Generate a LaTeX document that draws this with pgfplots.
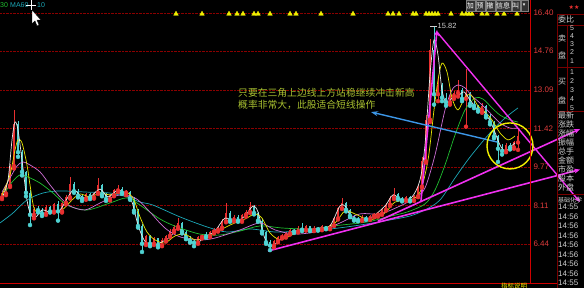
\documentclass[border=0pt]{standalone}
\usepackage{fontspec}
\setmainfont{Liberation Sans}
\newfontfamily\cjk{Noto Sans CJK SC}
\newfontfamily\dejavu{DejaVu Sans}
\usepackage{pgfplots}
\pgfplotsset{compat=1.18}
\usepackage{pgfplotstable}
\usetikzlibrary{arrows.meta}

\definecolor{upred}{HTML}{E83030}
\definecolor{dncyan}{HTML}{4FD2D2}
\definecolor{gridred}{HTML}{8A0000}
\definecolor{framered}{HTML}{D00000}
\definecolor{panelred}{HTML}{7A0000}
\definecolor{ma5}{HTML}{E8E8E8}
\definecolor{ma10}{HTML}{E6E600}
\definecolor{ma20}{HTML}{D070D8}
\definecolor{ma30}{HTML}{20C030}
\definecolor{ma60}{HTML}{1CA8B8}
\definecolor{trend}{HTML}{F030F0}
\definecolor{note}{HTML}{A8C030}
\definecolor{arrowblue}{HTML}{3C96E6}
\definecolor{ticklab}{HTML}{E03C3C}
\definecolor{panelgrey}{HTML}{D0D0D0}
\definecolor{sig}{HTML}{F0F000}

% daily candles: x, body low, body high, low, high
\pgfplotstableread{
x bl bh l h
2 8.45 8.62 8.38 8.70
6 8.62 8.95 8.55 9.05
10 8.95 9.80 8.90 9.90
14 9.80 11.60 9.70 12.22
34 7.70 7.95 7.55 8.05
46 7.75 8.05 7.70 8.12
54 7.85 8.15 7.80 8.20
62 7.85 8.22 7.80 8.30
66 8.22 8.45 8.15 8.55
70 8.45 9.05 8.40 9.33
86 8.40 8.58 8.35 8.62
94 8.45 8.65 8.40 8.70
98 8.65 9.00 8.60 9.29
110 8.38 8.55 8.32 8.60
114 8.55 8.75 8.50 8.80
118 8.75 8.82 8.68 8.99
126 8.66 8.70 8.55 8.78
146 6.45 6.78 6.40 6.85
154 6.45 6.68 6.40 6.75
162 6.40 6.62 6.35 6.70
166 6.62 6.80 6.55 6.85
170 6.80 7.02 6.75 7.10
174 7.02 7.18 6.95 7.25
178 7.18 7.35 7.10 7.56
198 6.50 6.75 6.45 6.80
202 6.75 6.82 6.68 6.88
210 6.78 6.98 6.74 7.02
214 6.98 7.05 6.90 7.12
218 7.05 7.15 6.98 7.20
222 7.15 7.42 7.10 7.50
226 7.42 7.80 7.38 8.21
234 7.48 7.62 7.42 7.70
242 7.46 7.70 7.40 7.75
246 7.70 7.82 7.62 7.90
250 7.82 8.05 7.78 8.25
274 6.38 6.58 6.30 6.62
278 6.58 6.74 6.52 6.80
282 6.74 6.80 6.68 6.86
286 6.80 6.90 6.72 6.95
290 6.90 7.05 6.85 7.12
298 6.98 7.15 6.94 7.20
306 7.06 7.20 7.02 7.25
314 7.05 7.15 7.00 7.20
322 7.08 7.20 7.04 7.25
330 7.12 7.25 7.08 7.30
334 7.25 7.55 7.22 7.62
338 7.55 7.98 7.50 8.05
342 7.98 8.20 7.95 8.43
362 7.48 7.62 7.44 7.68
370 7.52 7.66 7.48 7.70
374 7.66 7.70 7.60 7.76
378 7.70 7.76 7.62 7.82
382 7.76 7.92 7.70 7.98
386 7.92 8.14 7.88 8.20
390 8.14 8.44 8.08 8.50
394 8.44 8.58 8.38 8.86
406 8.34 8.45 8.30 8.50
414 8.33 8.50 8.30 8.55
418 8.50 8.92 8.46 9.00
422 8.92 10.00 8.88 10.20
426 10.00 11.80 9.95 12.00
430 11.80 14.80 11.70 15.30
438 12.90 13.30 12.60 13.60
450 12.55 12.82 12.45 12.90
454 12.82 12.95 12.70 13.05
458 12.95 13.10 12.80 13.50
466 12.70 12.95 11.50 14.00
482 12.22 12.38 12.10 12.50
506 10.45 10.70 10.40 10.78
514 10.60 10.82 10.55 10.88
518 10.82 11.10 10.50 11.45
}\upcandles

\pgfplotstableread{
x bl bh l h
18 10.40 11.60 10.20 11.75
22 9.55 10.40 9.40 10.50
26 8.65 9.55 8.50 9.60
30 7.70 8.65 7.26 8.75
38 7.90 7.95 7.80 8.10
42 7.75 7.90 7.65 8.00
50 7.85 8.05 7.80 8.10
58 7.85 8.15 7.45 8.30
74 8.72 9.05 8.65 9.10
78 8.52 8.72 8.45 8.80
82 8.40 8.52 8.30 8.60
90 8.45 8.58 8.38 8.65
102 8.58 9.00 8.50 9.05
106 8.38 8.58 8.30 8.62
122 8.66 8.82 8.60 8.88
130 8.40 8.70 8.35 8.74
134 7.88 8.40 7.80 8.45
138 7.22 7.88 7.15 7.95
142 6.45 7.22 6.10 7.30
150 6.45 6.78 6.35 6.82
158 6.40 6.68 6.30 6.72
182 6.98 7.35 6.90 7.40
186 6.72 6.98 6.65 7.05
190 6.58 6.72 6.50 6.78
194 6.50 6.58 6.35 6.65
206 6.78 6.82 6.72 6.95
230 7.48 7.80 7.40 7.85
238 7.46 7.62 7.40 7.68
254 7.78 8.05 7.72 8.12
258 7.45 7.78 7.40 7.82
262 6.98 7.45 6.90 7.50
266 6.52 6.98 6.45 7.02
270 6.38 6.52 6.18 6.60
294 6.98 7.05 6.92 7.10
302 7.06 7.15 7.00 7.35
310 7.05 7.20 7.00 7.24
318 7.08 7.15 7.02 7.18
326 7.12 7.20 7.08 7.24
346 7.92 8.20 7.85 8.25
350 7.66 7.92 7.60 7.96
354 7.52 7.66 7.45 7.70
358 7.48 7.52 7.42 7.60
366 7.52 7.62 7.48 7.66
398 8.42 8.58 8.36 8.62
402 8.34 8.42 8.28 8.48
410 8.33 8.45 8.28 8.50
434 12.90 14.80 12.45 15.82
442 12.75 13.30 12.60 13.40
446 12.55 12.75 12.40 12.95
462 12.70 13.10 12.60 13.15
470 12.48 12.95 12.40 13.00
474 12.40 12.48 12.30 12.62
478 12.22 12.40 12.15 12.45
486 11.98 12.38 11.90 12.42
490 11.70 11.98 11.60 12.05
494 11.08 11.70 11.00 11.75
498 10.55 11.08 9.98 11.15
502 10.45 10.55 10.30 10.75
510 10.60 10.70 10.52 10.80
}\downcandles

\begin{document}
\begin{tikzpicture}
\path[use as bounding box] (0,0) rectangle (584pt,288pt);
\clip (0,0) rectangle (584pt,288pt);
\fill[black] (0,0) rectangle (584pt,288pt);

\begin{axis}[
  at={(0pt,0pt)}, anchor=south west,
  scale only axis, width=530pt, height=288pt,
  xmin=0, xmax=530, ymin=4.5466, ymax=16.9603,
  clip=false,
  axis line style={draw=none},
  tick style={draw=none},
  major tick length=0pt,
  xtick=\empty,
  ytick={6.44,8.11,9.77,11.42,13.09,14.76,16.40},
  yticklabels={6.44,8.11,9.77,11.42,13.09,14.76,16.40},
  yticklabel pos=right,
  yticklabel style={anchor=west, text=ticklab, font=\fontsize{8}{9}\selectfont},
  ymajorgrids,
  grid style={gridred, densely dotted, line width=0.5pt},
  candle/.style={only marks, mark=none,
    error bars/.cd, y dir=plus, y explicit, error mark=none},
]
% wicks
\addplot[upred, candle, error bar style={line width=0.6pt, upred}]
  table[x=x, y=l, y error plus expr=\thisrow{h}-\thisrow{l}] {\upcandles};
\addplot[dncyan, candle, error bar style={line width=0.6pt, dncyan}]
  table[x=x, y=l, y error plus expr=\thisrow{h}-\thisrow{l}] {\downcandles};
% bodies
\addplot[upred, candle, error bar style={line width=1.8pt, upred}]
  table[x=x, y=bl, y error plus expr=\thisrow{bh}-\thisrow{bl}] {\upcandles};
\addplot[dncyan, candle, error bar style={line width=1.8pt, dncyan}]
  table[x=x, y=bl, y error plus expr=\thisrow{bh}-\thisrow{bl}] {\downcandles};

% moving averages
\addplot[ma60, line width=0.7pt, smooth] coordinates {
(0,7.35) (13,7.78) (27,8.34) (43,8.64) (60,8.73) (87,8.68) (110,8.64) (127,8.47)
(140,8.25) (153,8.12) (180,7.61) (207,7.18) (227,6.96) (250,7.09) (275,6.96)
(300,7.00) (330,7.09) (360,7.26) (390,7.48) (410,7.65) (425,7.91) (440,8.34)
(455,9.29) (470,10.19) (490,11.23) (505,11.87) (518,12.31)};
\addplot[ma30, line width=0.7pt, smooth] coordinates {
(2,8.47) (12,9.11) (20,9.42) (28,9.33) (40,9.07) (53,8.64) (67,8.12) (87,7.91)
(110,8.21) (127,8.43) (140,8.12) (160,7.52) (177,7.18) (200,6.87) (220,6.83)
(240,7.00) (260,7.22) (283,7.13) (310,7.09) (333,7.22) (367,7.39) (387,7.61)
(407,7.82) (425,8.17) (435,8.77) (445,9.85) (455,11.14) (465,12.22) (475,12.74)
(483,12.69) (492,12.31) (500,12.00) (510,11.79) (518,11.70)};
\addplot[ma20, line width=0.7pt, smooth] coordinates {
(2,8.68) (10,9.29) (17,9.80) (23,9.98) (30,9.85) (40,9.55) (50,8.99) (60,8.47)
(70,8.08) (85,7.91) (100,8.21) (115,8.51) (127,8.56) (138,8.34) (150,7.82)
(165,7.13) (180,6.75) (200,6.62) (215,6.70) (240,7.05) (260,7.35) (275,7.05)
(295,6.87) (320,7.00) (340,7.35) (360,7.74) (380,7.74) (400,8.08) (415,8.43)
(425,8.86) (435,10.28) (445,12.22) (452,13.08) (458,13.30) (465,13.17)
(472,12.82) (480,12.52) (490,12.09) (500,11.66) (510,11.44) (518,11.44)};
\addplot[ma10, line width=0.7pt, smooth] coordinates {
(2,8.56) (10,9.42) (15,10.49) (18,10.93) (22,10.80) (27,9.85) (30,8.99) (34,7.99)
(40,7.74) (50,7.78) (62,7.91) (72,8.34) (80,8.60) (90,8.47) (100,8.64) (110,8.56)
(120,8.64) (128,8.64) (134,8.34) (140,7.61) (147,6.96) (155,6.62) (165,6.49)
(175,6.79) (185,6.87) (195,6.62) (205,6.70) (215,6.92) (230,7.26) (245,7.52)
(255,7.74) (262,7.56) (270,6.92) (280,6.62) (290,6.79) (300,7.00) (320,7.05)
(335,7.35) (345,7.87) (355,7.74) (370,7.48) (385,7.78) (395,8.25) (410,8.34)
(420,8.68) (428,10.06) (434,12.22) (438,13.51) (442,14.24) (447,13.86)
(452,12.74) (458,12.22) (465,12.78) (471,12.87) (478,12.39) (485,12.13)
(492,11.79) (500,11.23) (508,10.93) (515,11.10)};
\addplot[ma5, line width=0.7pt, smooth] coordinates {
(2,8.43) (8,9.20) (12,10.93) (15,11.70) (18,11.36) (22,10.06) (27,8.34) (31,7.69)
(36,7.61) (42,7.91) (50,7.82) (60,7.91) (68,8.47) (74,8.77) (82,8.47) (90,8.47)
(100,8.81) (108,8.47) (118,8.77) (126,8.56) (132,8.25) (138,7.26) (144,6.62)
(150,6.36) (160,6.49) (170,6.75) (178,7.13) (186,6.75) (195,6.44) (205,6.75)
(215,7.00) (225,7.56) (235,7.39) (245,7.65) (253,8.08) (258,7.82) (264,6.79)
(270,6.31) (280,6.62) (290,6.92) (300,7.05) (310,7.05) (320,7.13) (330,7.22)
(340,8.08) (346,8.04) (352,7.52) (362,7.48) (372,7.61) (385,8.08) (393,8.56)
(402,8.34) (412,8.47) (420,9.20) (425,10.71) (430,13.73) (434,15.24)
(438,14.59) (442,13.08) (447,12.43) (452,12.74) (458,12.82) (464,13.00)
(470,12.65) (478,12.22) (485,12.09) (492,11.57) (500,10.71) (505,10.45)
(510,10.62) (515,10.80)};

% signal markers along the top
\addplot[only marks, mark=triangle*, mark size=2.7pt, sig] coordinates {
(176,16.36) (202,16.36) (229,16.36) (237,16.36) (243,16.36) (254,16.36)
(258,16.36) (270,16.36) (290,16.36) (296,16.36) (321,16.36) (353,16.36)
(388,16.36) (393,16.36) (399,16.36) (413,16.36) (416,16.36) (426,16.36)
(429,16.36) (432,16.36) (435,16.36) (438,16.36) (451,16.36) (462,16.36)
(466,16.36) (469,16.36) (472,16.36) (482,16.36) (487,16.36) (497,16.36)
(504,16.36) (517,16.36)};

% high marker
\addplot[panelgrey, line width=0.6pt] coordinates {(430,15.84) (437,15.84)};
\node[anchor=west, inner sep=0.5pt, text=panelgrey, font=\fontsize{7.5}{8}\selectfont]
  at (axis cs:437,15.84) {15.82};

% triangle trend lines
\addplot[trend, line width=1.6pt, -{Stealth[length=6pt,width=5pt]}] coordinates {(268,6.14) (580,9.65)};
\addplot[trend, line width=1.6pt, -{Stealth[length=6pt,width=5pt]}] coordinates {(378,7.43) (580,11.40)};
\addplot[trend, line width=1.6pt, -{Stealth[length=6pt,width=5pt]}] coordinates {(421,8.30) (437,15.67)};
\addplot[trend, line width=1.4pt, -{Stealth[length=6pt,width=5pt]}] coordinates {(437,15.58) (580,8.25)};

% pointer to the note
\addplot[arrowblue, line width=1.4pt, -{Stealth[length=7pt,width=5pt]}] coordinates {(497,10.84) (371,12.13)};

% circled consolidation
\node[draw=sig, circle, line width=1.4pt, minimum size=46pt, inner sep=0pt] at (axis cs:510,10.67) {};
\end{axis}

\begin{scope}[x=1pt, y=1pt]
% frame
\draw[framered, line width=0.8pt] (0,5) -- (557,5);
\draw[framered, line width=0.8pt] (530,5) -- (530,288);
% quote panel
\draw[panelred, line width=0.6pt] (557,0) -- (557,274) -- (584,274);
\draw[panelred, line width=0.6pt] (557,263) -- (584,263);
\draw[panelred, line width=0.6pt] (557,221) -- (584,221);
\draw[panelred, line width=0.6pt] (557,177) -- (584,177);
\draw[panelred, line width=0.6pt] (557,94) -- (584,94);
\draw[panelred, line width=0.6pt] (567,263) -- (567,177);

\node[anchor=center, text=upred, font=\dejavu\fontsize{6}{6}\selectfont] at (574,281) {★★};

\begin{scope}[every node/.style={anchor=west, inner sep=0pt, text=panelgrey}]
\node[font=\cjk\fontsize{8}{8}\selectfont] at (558,269) {委比};
\node[font=\cjk\fontsize{8}{8}\selectfont] at (558,250) {卖};
\node[font=\cjk\fontsize{8}{8}\selectfont] at (558,233) {盘};
\node[font=\cjk\fontsize{8}{8}\selectfont] at (558,206) {买};
\node[font=\cjk\fontsize{8}{8}\selectfont] at (558,188) {盘};
\foreach \n/\yy in {5/260,4/252,3/244,2/236,1/227,1/216,2/207,3/198,4/189,5/180}
  \node[font=\fontsize{7}{7}\selectfont] at (570,\yy) {\n};
\foreach \t/\yy in {最新/173,涨跌/164,涨幅/155,振幅/146,总手/137,金额/128,市盈/119,股本/110,外盘/101}
  \node[font=\cjk\fontsize{8}{8}\selectfont] at (558,\yy) {\t};
\node[font=\cjk\fontsize{6}{6}\selectfont] at (558,88) {基础化学};
\foreach \t/\yy in {14:55/81,14:56/71.5,14:56/62,14:56/52.5,14:56/43,14:56/33.5,14:56/24,14:56/14.5,14:55/5}
  \node[font=\fontsize{8}{8}\selectfont] at (558,\yy) {\t};
\end{scope}

% toolbar buttons
\begin{scope}[every node/.style={draw=gray, fill=black!80, inner sep=0pt, minimum height=11pt,
   text=white, font=\cjk\fontsize{7}{7}\selectfont, anchor=north west}]
\node[minimum width=8.5pt] at (466,288) {加};
\node[minimum width=9pt] at (475.5,288) {预};
\node[minimum width=9pt] at (485.5,288) {撤};
\node[minimum width=15pt] at (495.5,288) {信息};
\node[minimum width=8pt] at (511.5,288) {叫};
\node[minimum width=7pt, font=\dejavu\fontsize{5}{5}\selectfont] at (520.5,288) {▾};
\end{scope}

% indicator caption
\node[anchor=west, inner sep=0pt, text=ma30, font=\fontsize{7}{7}\selectfont] at (0,283) {30};
\node[anchor=west, inner sep=0pt, text=ma60, font=\fontsize{7}{7}\selectfont] at (10,283) {MA60};
\node[anchor=west, inner sep=0pt, text=ma60, font=\fontsize{7}{7}\selectfont] at (37,283) {10};
% mouse cursor
\draw[white, line width=0.8pt] (26,283) -- (36,283) (31,278) -- (31,288);
\filldraw[fill=white, draw=black, line width=0.4pt]
  (32,278) -- (32,264) -- (35,267) -- (37,262) -- (39,263) -- (37,268) -- (41,268) -- cycle;

% note
\node[anchor=west, inner sep=0pt, text=note, font=\cjk\fontsize{9.8}{10}\selectfont] at (238,195) {只要在三角上边线上方站稳继续冲击新高};
\node[anchor=west, inner sep=0pt, text=note, font=\cjk\fontsize{9.8}{10}\selectfont] at (238,183) {概率非常大，此股适合短线操作};

\node[anchor=north west, inner sep=0pt, text=sig, font=\cjk\fontsize{6.5}{6.5}\selectfont] at (501,5) {指标说明};
\end{scope}
\end{tikzpicture}
\end{document}
